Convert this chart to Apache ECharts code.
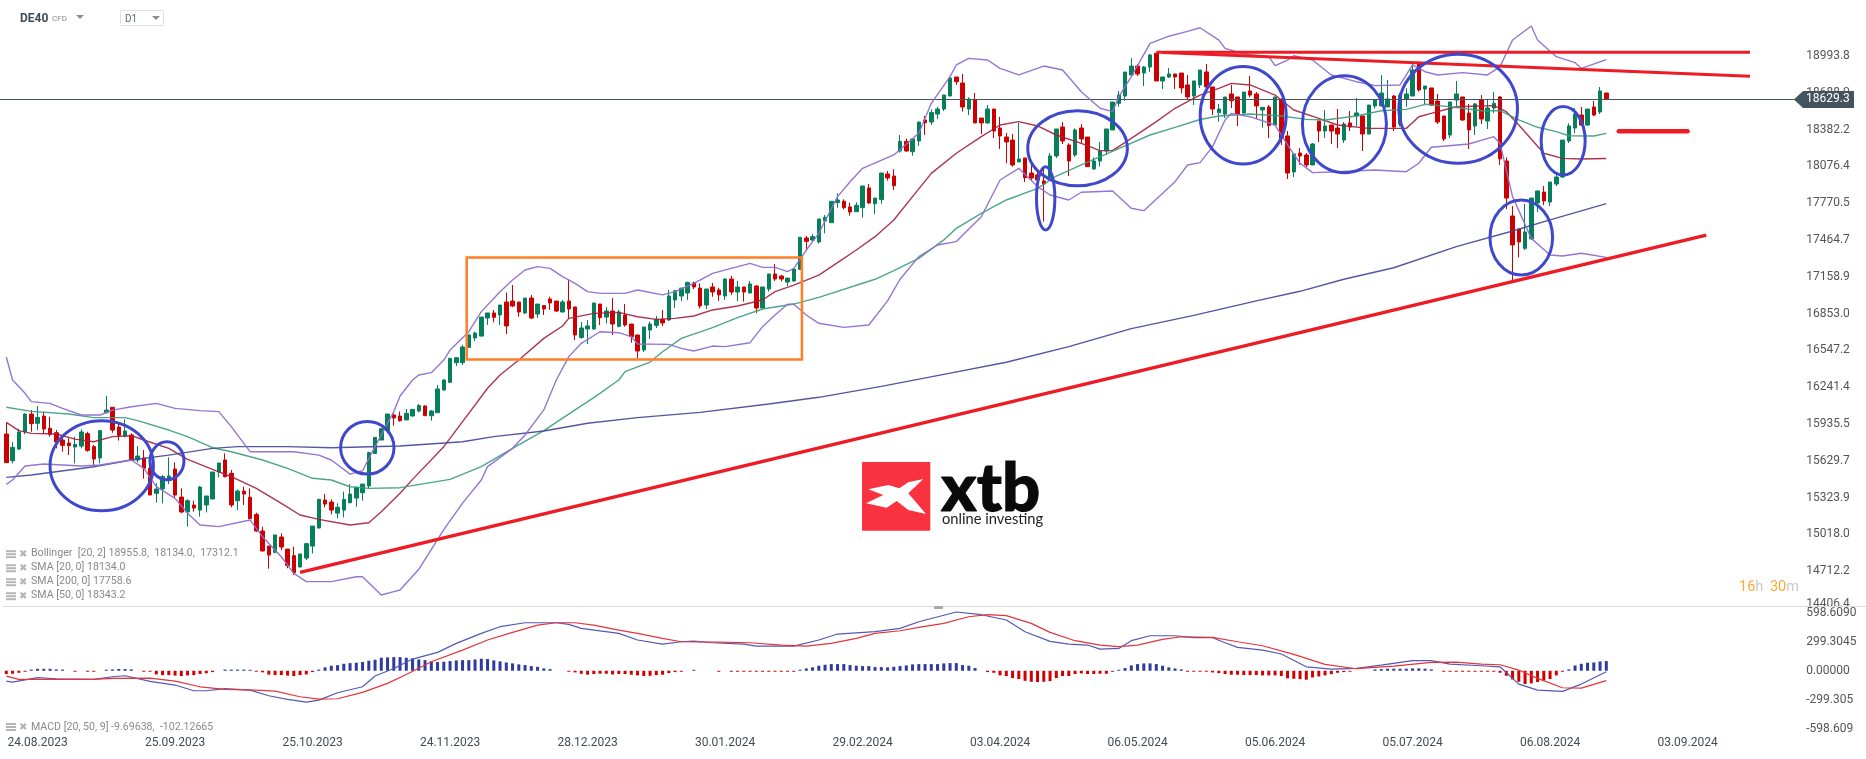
<!DOCTYPE html>
<html><head><meta charset="utf-8">
<style>html,body{margin:0;padding:0;background:#fff}#c{width:1866px;height:759px}</style>
<script src="https://cdn.jsdelivr.net/npm/echarts@6/dist/echarts.min.js"></script>
</head><body><div id="c"></div>
<script>
// candle rows: [open, close, low, high]
const candlesAug23=[[15844,15606,15606,15938],[15622,15733,15600,15777],[15719,15861,15711,15888],[15863,16010,15841,16016],[16010,15930,15863,16043],[15933,15982,15877,16077],[15993,15885,15849,16030],[15891,15841,15822,15988],[15855,15777,15725,15877],[15794,15750,15697,15822],[15769,15747,15669,15808],[15736,15758,15600,15822],[15744,15861,15725,15883],[15847,15708,15697,15863],[15739,15636,15581,15753],[15645,15872,15600,15877],[16021,16043,16016,16160],[16066,15877,15855,16066],[15902,15833,15789,15933],[15827,15869,15816,15966],[15836,15625,15620,15849],[15628,15661,15606,15744],[15644,15559,15473,15711],[15559,15337,15337,15600],[15351,15387,15273,15434],[15387,15489,15268,15503],[15456,15495,15428,15650],[15553,15337,15318,15608],[15320,15196,15185,15392],[15196,15290,15074,15301],[15254,15229,15198,15290],[15212,15403,15157,15412]];
const candlesOct23=[[15254,15329,15193,15329],[15304,15528,15301,15528],[15528,15603,15484,15603],[15628,15489,15484,15683],[15517,15254,15235,15545],[15290,15370,15212,15384],[15370,15345,15254,15406],[15318,15140,15140,15392],[15176,15038,15032,15190],[15038,14872,14869,15074],[14913,14838,14725,14913],[14861,15005,14852,15005],[14988,14905,14880,15018],[14888,14750,14728,14888],[14833,14692,14672,14908],[14739,14847,14736,14847],[14813,14933,14797,14933],[14913,15079,14852,15079],[15063,15301,15060,15301],[15295,15262,15235,15345],[15279,15212,15176,15301],[15187,15235,15143,15268],[15212,15301,15151,15365],[15273,15345,15268,15428],[15312,15401,15240,15406],[15356,15428,15290,15428],[15412,15689,15392,15697],[15683,15816,15678,15816],[15794,15888,15794,15888],[15872,16010,15849,16010],[16002,15977,15913,16016],[15993,15955,15946,16030]];
const candlesNov23=[[15961,16016,15961,16052],[15994,16049,15988,16049],[16035,16080,16024,16093],[16077,15996,15996,16082],[15996,16035,15955,16044],[16021,16218,16021,16251],[16210,16293,16204,16298],[16274,16473,16268,16473],[16437,16478,16409,16478],[16437,16567,16417,16584],[16564,16667,16564,16672],[16642,16683,16617,16694],[16658,16816,16655,16816],[16808,16850,16750,16850],[16850,16814,16772,16875],[16833,16916,16750,16916],[16941,16742,16675,17019],[16949,16908,16897,17082],[16941,16858,16819,16941],[16850,16974,16841,16974],[16974,16808,16800,16999],[16841,16924,16808,16924],[16911,16883,16833,16916],[16966,16933,16875,16985],[16949,16866,16858,16949],[16858,16941,16855,16958],[16949,16883,16800,17124],[16900,16667,16625,16900],[16647,16725,16636,16775],[16717,16742,16592,16791],[16717,16933,16708,16933],[16924,16811,16750,16924]];
const candlesJan24=[[16816,16866,16764,16899],[16866,16758,16667,16974],[16739,16858,16730,16875],[16833,16750,16736,16924],[16758,16653,16603,16758],[16667,16534,16476,16667],[16542,16733,16526,16733],[16708,16758,16634,16778],[16747,16797,16725,16825],[16797,16767,16742,16875],[16792,16991,16783,17041],[16958,17035,16891,17035],[16991,17057,16949,17057],[17016,17104,16958,17110],[17099,17066,17049,17110],[17057,16908,16888,17096],[16916,17049,16883,17049],[17066,17024,16985,17099],[17041,17000,16949,17060],[16991,17132,16958,17140],[17132,17024,16999,17157],[17024,17066,16949,17116],[17066,17024,16944,17066],[17016,17091,17016,17116],[17074,16891,16850,17082],[16891,17066,16886,17066],[17049,17174,17027,17174],[17174,17132,17116,17257],[17157,17132,17113,17165],[17107,17140,17074,17140],[17116,17215,17110,17215],[17213,17479,17213,17479]];
const candlesFeb24=[[17473,17445,17368,17490],[17456,17484,17443,17506],[17440,17631,17426,17631],[17614,17645,17512,17664],[17600,17778,17600,17778],[17767,17789,17725,17844],[17778,17725,17711,17794],[17731,17689,17659,17767],[17692,17745,17692,17769],[17725,17905,17642,17905],[17889,17764,17758,17922],[17758,17805,17672,17805],[17792,18013,17758,18013],[18005,17972,17950,18030],[17988,17908,17872,18044],[18196,18276,18182,18329],[18276,18196,18190,18298],[18190,18296,18157,18296],[18279,18437,18238,18437],[18454,18431,18329,18487],[18437,18515,18412,18542],[18503,18545,18462,18564],[18545,18661,18528,18661],[18653,18803,18653,18803],[18811,18772,18745,18811],[18761,18562,18523,18836],[18545,18628,18495,18642],[18620,18429,18429,18678],[18470,18429,18337,18470],[18429,18545,18423,18578],[18545,18362,18304,18545],[18387,18321,18213,18479]];
const candlesApr24=[[18312,18271,18094,18346],[18287,18080,18066,18337],[18105,18130,18105,18429],[18138,17974,17938,18138],[18013,17972,17955,18080],[17997,17955,17927,18024],[17947,17922,17609,18052],[17977,18155,17955,18177],[18155,18379,18138,18379],[18395,18279,18254,18437],[18246,18113,17988,18260],[18163,18371,18146,18384],[18387,18296,18254,18420],[18312,18066,18066,18312],[18047,18113,18038,18143],[18113,18196,18066,18271],[18196,18379,18163,18379],[18371,18603,18371,18603],[18592,18661,18564,18695],[18653,18852,18614,18852],[18828,18902,18819,18969],[18902,18836,18819,18919],[18844,18894,18736,18902],[18894,18994,18852,19002],[19008,18778,18778,19008],[18778,18811,18711,18811],[18811,18836,18803,18886],[18836,18811,18711,18836],[18844,18720,18675,18844],[18745,18645,18620,18828],[18653,18778,18578,18778],[18745,18869,18720,18869]];
const candlesMay24=[[18853,18728,18728,18919],[18728,18545,18495,18728],[18515,18545,18440,18587],[18503,18645,18470,18645],[18670,18614,18553,18745],[18645,18503,18404,18645],[18512,18686,18503,18686],[18695,18661,18642,18819],[18670,18570,18462,18686],[18537,18559,18390,18559],[18562,18409,18304,18578],[18412,18645,18412,18645],[18620,18301,18246,18634],[18321,18013,17963,18362],[18022,18171,17980,18171],[18179,18155,18080,18221],[18163,18080,18063,18179],[18080,18254,18080,18262],[18445,18362,18271,18445],[18362,18404,18304,18537],[18412,18362,18254,18412],[18387,18337,18221,18545],[18287,18420,18262,18437],[18429,18395,18362,18528],[18487,18512,18404,18636],[18487,18337,18196,18487],[18337,18578,18337,18578],[18570,18620,18548,18620],[18570,18678,18570,18827],[18562,18628,18562,18786],[18653,18395,18362,18661],[18420,18661,18400,18680]];
const candlesJul24=[[18628,18670,18564,18717],[18653,18869,18653,18919],[18919,18703,18689,18938],[18711,18736,18586,18736],[18720,18578,18570,18720],[18611,18437,18420,18670],[18487,18296,18279,18487],[18329,18603,18304,18603],[18620,18670,18570,18778],[18645,18454,18445,18645],[18512,18371,18213,18587],[18404,18587,18329,18595],[18620,18462,18420,18661],[18445,18553,18379,18628],[18553,18592,18512,18686],[18645,18130,18080,18653],[18113,17805,17714,18143],[17656,17415,17124,17739],[17548,17440,17312,17548],[17387,17523,17373,17756],[17465,17805,17456,17805],[17764,17864,17689,17864],[17855,17781,17747,17905],[17772,17938,17739,17938],[17922,17980,17905,17997],[17980,18287,17972,18287],[18279,18404,18262,18426],[18387,18503,18346,18553],[18495,18412,18404,18562],[18412,18545,18404,18545],[18562,18495,18487,18612],[18520,18695,18503,18728],[18678,18629,18629,18678]];

// indicator lines: [bar index, value]
const sma20=[[0,15941],[2,15872],[4,15849],[8,15844],[11,15802],[14,15780],[17,15822],[20,15830],[22,15794],[26,15725],[29,15633],[33,15550],[36,15489],[40,15392],[44,15268],[47,15171],[50,15135],[55,15088],[58,15107],[60,15198],[63,15351],[65,15467],[70,15739],[74,16016],[77,16224],[79,16334],[82,16459],[86,16639],[89,16742],[90,16805],[94,16847],[98,16855],[101,16819],[104,16797],[107,16805],[110,16825],[113,16875],[117,16908],[121,16958],[123,17027],[126,17082],[130,17165],[133,17268],[136,17373],[139,17484],[142,17623],[145,17817],[148,18010],[152,18177],[156,18315],[159,18412],[162,18440],[165,18404],[168,18329],[172,18260],[175,18199],[177,18199],[180,18301],[184,18440],[187,18551],[189,18606],[191,18661],[194,18717],[196,18758],[199,18745],[203,18661],[206,18537],[210,18467],[213,18412],[218,18384],[224,18384],[226,18481],[228,18509],[232,18564],[238,18573],[240,18523],[242,18412],[246,18177],[249,18135],[252,18130],[256,18134]];
const sma50=[[0,16066],[4,16032],[10,16010],[14,15980],[19,15980],[21,15955],[26,15877],[29,15822],[33,15730],[36,15697],[41,15628],[45,15559],[49,15476],[52,15462],[55,15406],[58,15392],[63,15398],[71,15467],[76,15573],[81,15725],[86,15872],[91,16044],[94,16146],[98,16293],[99,16362],[103,16442],[105,16528],[108,16639],[113,16728],[117,16811],[121,16883],[126,16924],[130,16980],[139,17130],[142,17202],[146,17304],[150,17457],[152,17553],[156,17678],[160,17789],[165,17886],[168,17988],[172,18080],[179,18238],[183,18329],[187,18393],[191,18458],[194,18487],[199,18503],[204,18487],[208,18459],[211,18454],[216,18487],[220,18531],[224,18542],[227,18584],[229,18575],[233,18551],[236,18531],[239,18531],[242,18454],[245,18393],[248,18357],[250,18323],[254,18321],[256,18343]];
const sma200=[[0,15484],[4,15503],[14,15572],[20,15628],[26,15669],[33,15725],[37,15739],[45,15739],[52,15730],[63,15744],[73,15780],[78,15822],[86,15869],[93,15933],[101,15980],[111,16024],[122,16093],[130,16149],[140,16240],[150,16340],[160,16440],[170,16570],[180,16720],[190,16830],[200,16950],[207,17030],[214,17130],[222,17226],[232,17401],[241,17531],[247,17623],[256,17759]];
const bollUpper=[[0,16484],[1,16293],[3,16182],[4,16113],[7,16099],[9,16057],[12,16002],[15,16002],[17,16043],[20,16071],[24,16099],[27,16057],[31,16038],[34,16030],[36,15905],[39,15697],[42,15697],[46,15697],[50,15669],[52,15628],[55,15511],[57,15539],[59,15739],[62,16030],[63,16160],[65,16293],[66,16334],[68,16354],[70,16459],[71,16542],[74,16694],[76,16861],[79,17027],[81,17124],[83,17207],[85,17235],[87,17221],[89,17152],[91,17096],[93,17027],[95,17013],[99,17013],[101,17041],[105,17000],[107,17027],[110,17096],[113,17179],[116,17221],[119,17262],[121,17229],[123,17229],[125,17193],[126,17221],[128,17373],[130,17512],[133,17817],[135,17941],[137,18052],[142,18163],[146,18343],[148,18592],[151,18814],[152,18911],[154,18966],[157,18952],[159,18883],[162,18828],[166,18902],[169,18869],[172,18689],[175,18551],[177,18523],[178,18647],[180,18814],[183,19091],[186,19150],[189,19190],[191,19220],[194,19118],[195,19049],[198,19002],[202,18980],[203,18905],[205,18952],[206,18988],[209,18952],[212,18828],[216,18772],[219,18739],[223,18745],[225,18911],[227,18855],[229,18828],[233,18847],[237,18828],[239,18897],[241,19118],[244,19235],[245,19118],[248,18980],[251,18930],[252,18883],[256,18956]];
const bollLower=[[0,15426],[1,15462],[3,15578],[6,15595],[12,15578],[15,15586],[20,15628],[22,15559],[24,15406],[27,15309],[29,15185],[31,15088],[34,15074],[39,15129],[41,14991],[44,14824],[46,14686],[48,14617],[52,14617],[56,14658],[57,14658],[60,14506],[62,14534],[63,14548],[66,14720],[70,15050],[73,15270],[76,15462],[77,15573],[81,15725],[83,15836],[86,16044],[88,16293],[90,16487],[92,16598],[95,16694],[98,16686],[100,16653],[101,16592],[106,16589],[108,16556],[110,16534],[113,16575],[115,16570],[119,16603],[121,16736],[123,16833],[125,16922],[126,16922],[128,16833],[130,16764],[134,16730],[138,16750],[141,16950],[143,17130],[146,17318],[149,17415],[152,17443],[156,17650],[159,17955],[162,18052],[165,17900],[167,17830],[170,17789],[172,17853],[177,17864],[180,17720],[182,17700],[187,17941],[189,18080],[191,18099],[193,18232],[195,18454],[196,18509],[199,18481],[203,18412],[205,18246],[207,18094],[209,18016],[213,18024],[219,18038],[224,18024],[226,18094],[228,18227],[234,18254],[238,18315],[239,18260],[241,17817],[244,17470],[247,17332],[249,17323],[252,17346],[256,17312]];

const macdLine=[[0,-107],[1,-117],[5,-72],[8,-83],[14,-90],[17,-62],[19,-52],[23,-110],[27,-148],[30,-207],[32,-207],[35,-186],[39,-200],[42,-259],[45,-297],[48,-324],[50,-304],[53,-228],[57,-166],[59,-55],[62,24],[65,121],[69,190],[72,283],[76,387],[79,456],[83,497],[88,497],[90,480],[92,438],[98,387],[101,318],[105,276],[108,300],[110,307],[113,290],[118,276],[120,255],[126,255],[130,318],[133,380],[139,404],[143,438],[146,507],[152,608],[156,580],[160,525],[163,404],[167,304],[170,276],[173,266],[175,224],[178,231],[180,311],[183,362],[187,362],[190,342],[193,342],[195,290],[197,242],[201,214],[204,173],[208,41],[212,17],[216,24],[220,59],[225,104],[228,104],[231,69],[236,52],[239,41],[242,-138],[245,-200],[249,-214],[252,-138],[256,-10]];
const macdSignal=[[0,-55],[2,-90],[7,-90],[14,-90],[17,-79],[23,-76],[27,-107],[31,-166],[35,-193],[40,-200],[43,-211],[47,-269],[50,-293],[53,-290],[57,-224],[61,-131],[64,-38],[68,93],[73,214],[77,318],[81,397],[85,473],[88,497],[91,497],[94,473],[98,421],[101,387],[105,335],[108,300],[114,297],[119,290],[124,266],[128,255],[132,283],[136,335],[139,387],[143,414],[146,449],[150,490],[154,559],[157,580],[160,570],[164,490],[167,397],[171,311],[175,266],[178,249],[181,266],[185,325],[188,352],[193,345],[197,300],[201,259],[206,169],[211,66],[216,21],[222,48],[228,86],[232,90],[236,69],[239,62],[242,7],[245,-79],[249,-176],[252,-180],[256,-102]];
const macdHist=[-35,-31,-21,-6,12,20,20,20,14,12,null,-3,null,-3,-3,null,10,14,18,18,14,null,-3,-8,-38,-45,-45,-50,-55,-48,-45,-33,-26,-14,null,12,12,12,12,6,-4,-16,-40,-45,-45,-50,-55,-45,-38,-14,12,35,52,58,72,79,83,90,104,114,135,138,141,141,135,128,117,110,97,90,93,100,107,110,110,117,124,121,107,97,86,76,66,59,48,41,24,17,null,null,-3,-17,-31,-41,-34,-31,-31,-38,-34,-34,-41,-48,-55,-52,-45,-41,-24,-14,-7,null,10,null,null,null,-3,null,-3,-3,-3,-7,-10,-7,-10,-4,-3,-3,-3,10,24,35,52,62,69,69,69,59,52,48,48,38,38,35,41,48,55,66,69,69,69,69,76,79,79,59,52,28,null,-14,-21,-48,-55,-76,-86,-104,-114,-117,-114,-107,-76,-55,-55,-34,-28,-34,-34,-31,-31,-7,10,28,55,69,76,76,69,52,35,24,14,-3,-3,-3,-7,-17,-24,-34,-41,-41,-45,-45,-45,-48,-48,-48,-55,-79,-83,-86,-93,-69,-59,-48,-35,-21,-14,-7,null,null,null,14,17,21,21,21,21,24,24,21,14,null,-3,-3,-3,-7,-7,-7,-7,-5,-3,-21,-52,-90,-114,-138,-131,-117,-100,-86,-48,-4,14,55,72,83,86,97,100];

// hand-drawn annotations, in bar index and price
const supportLine=[[47,14694],[272,17497]];
const topLine=[[184,19016],[279,19016]];
const fallingLine=[[185,19015],[279,18817]];
const targetLine=[[258,18360],[269,18360]];
const boxBars=[73.66,127.3], boxPrices=[17311,16463];
const ellipseBar=[15.27,25.71,57.76,171.4,166.3,197.9,214.1,232.3,249.1,242.4];
const ellipsePrice=[15580,15621,15730,18219,17803,18493,18419,18547,18281,17477];
const ellipseBarRadius=[8.27,2.72,4.27,7.97,1.47,6.88,6.72,9.49,3.52,5.01];
const ellipsePriceRadius=[374,158,219,312,263,405,403,453,284,312];

const tickDates=['24.08.2023','25.09.2023','25.10.2023','24.11.2023','28.12.2023','30.01.2024','29.02.2024','03.04.2024','06.05.2024','05.06.2024','05.07.2024','06.08.2024','03.09.2024'];
const priceTicks=[14406.4,14712.2,15018.0,15323.9,15629.7,15935.5,16241.4,16547.2,16853.0,17158.9,17464.7,17770.5,18076.4,18382.2,18688.0,18993.8];
const macdTicks=[598.609,299.3045,0,-299.305,-598.609];
const macdTickLabels=['598.6090','299.3045','0.00000','-299.305','-598.609'];
const lastPrice=18629.3;
const legendRows=['Bollinger  [20, 2] 18955.8,  18134.0,  17312.1','SMA [20, 0] 18134.0','SMA [200, 0] 17758.6','SMA [50, 0] 18343.2'];
const macdLegend='MACD [20, 50, 9] -9.69638,  -102.12665';

const barCount=288;
const categories=new Array(barCount).fill('');
tickDates.forEach((d,k)=>{categories[5+22*k]=d;});
const candles=[].concat(candlesAug23,candlesOct23,candlesNov23,candlesJan24,candlesFeb24,candlesApr24,candlesMay24,candlesJul24);

const line=(name,data,color,width,opacity,xi)=>({name,type:'line',data,xAxisIndex:xi||0,yAxisIndex:xi||0,showSymbol:false,symbol:'none',
  lineStyle:{color,width,opacity:opacity==null?1:opacity},silent:true,animation:false,z:5});
const trend=(data,width,cap)=>({type:'line',data,showSymbol:false,symbol:'none',lineStyle:{color:'#ed1c24',width,cap:cap||'butt'},silent:true,animation:false,z:8});

const xAt=(api,v,p)=>{const f=Math.floor(v);return api.coord([f,p])[0]+(v-f)*api.size([1,0])[0];};

const FONT='Roboto, sans-serif';
function legendIcon(x,y){
  const out=[];
  [-4,-1,2].forEach(d=>out.push({type:'rect',shape:{x:x,y:y+d,width:10,height:2},style:{fill:'#b5b5b5'},z:30}));
  out.push({type:'text',x:x+13,y:y-5,style:{text:'\u2716',font:'10px "DejaVu Sans"',fill:'#b5b5b5'},z:30});
  return out;
}
const graphics=[];
graphics.push({type:'rect',shape:{x:3,y:606,width:1863,height:1},style:{fill:'#dcdcdc'},z:1});
graphics.push({type:'rect',shape:{x:934,y:606,width:9,height:3},style:{fill:'#a8a8a8'},z:2});
graphics.push({type:'rect',shape:{x:0,y:99,width:4,height:1},style:{fill:'#44545f'},z:2});
legendRows.forEach((t,k)=>{
  const y=554.2+14*k;
  graphics.push(...legendIcon(6,y));
  graphics.push({type:'text',x:31,y:y-6,style:{text:t,font:'10.6px '+FONT,fill:'#8a8a8a'},z:30});
});
graphics.push(...legendIcon(6,727));
graphics.push({type:'text',x:31,y:721.5,style:{text:macdLegend,font:'10.6px '+FONT,fill:'#8a8a8a'},z:30});
// header
graphics.push({type:'text',x:20,y:12.5,style:{text:'DE40',font:'bold 12px '+FONT,fill:'#3f4d57'},z:30});
graphics.push({type:'text',x:52,y:15,style:{text:'CFD',font:'8px '+FONT,fill:'#8d8d8d'},z:30});
graphics.push({type:'polygon',shape:{points:[[76,15],[84,15],[80,19]]},style:{fill:'#8d8d8d'},z:30});
graphics.push({type:'rect',shape:{x:120.5,y:10.5,width:43,height:15,r:1},style:{fill:'#fff',stroke:'#e0e0e0',lineWidth:1},z:30});
graphics.push({type:'text',x:125,y:14,style:{text:'D1',font:'10px '+FONT,fill:'#5c6a73'},z:31});
graphics.push({type:'polygon',shape:{points:[[152,16],[160,16],[156,20]]},style:{fill:'#8d8d8d'},z:31});
// price tag
graphics.push({type:'polygon',shape:{points:[[1794,99.5],[1803,91],[1854,91],[1854,108],[1803,108]]},style:{fill:'#44545f'},z:30});
graphics.push({type:'text',x:1806,y:93,style:{text:lastPrice.toFixed(1),font:'12px '+FONT,fill:'#fff'},z:31});
// countdown
graphics.push({type:'text',x:1739,y:579.5,style:{text:'{a|16}{b|h}  {a|30}{b|m}',rich:{a:{fill:'#ffa733',font:'14.5px '+FONT},b:{fill:'#c9c9c9',font:'14.5px '+FONT}}},z:30});
// logo
graphics.push({type:'rect',shape:{x:862,y:462,width:68.3,height:68.7,r:1},style:{fill:'#f9323f'},z:3});
graphics.push({type:'polygon',shape:{points:[[923.3,479],[908.3,493.3],[926,514],[908.3,510],[896.7,501],[886.7,507.7],[866,503.3],[883.3,495],[868.3,489.3],[888.3,485],[899.3,488.3],[908.3,482.3]]},style:{fill:'#fff'},z:4});
graphics.push({type:'text',x:941,y:456,style:{text:'xtb',font:'900 67px Lato, sans-serif',fill:'#0a0a0a',stroke:'#0a0a0a',lineWidth:1},z:4});
graphics.push({type:'text',x:942,y:512,style:{text:'online investing',font:'14.7px Lato, sans-serif',fill:'#222'},z:4});

const option={
  animation:false,backgroundColor:'#fff',
  grid:[
    {left:3.175,width:1800,top:0,height:607,containLabel:false},
    {left:3.175,width:1800,top:606.5,height:128.5,containLabel:false}
  ],
  xAxis:[
    {type:'category',data:categories,gridIndex:0,axisLine:{show:false},axisTick:{show:false},axisLabel:{show:false},splitLine:{show:false}},
    {type:'category',data:categories,gridIndex:1,axisLine:{show:false},axisTick:{show:false},splitLine:{show:false},
     axisLabel:{interval:(i)=>(i-5)%22===0&&i>=5,color:'#444c52',fontFamily:'Roboto',fontSize:12,margin:2,hideOverlap:false}}
  ],
  yAxis:[
    {type:'value',gridIndex:0,position:'right',min:14406.4,max:19450.9,axisLine:{show:false},axisTick:{show:false},splitLine:{show:false},
     axisLabel:{customValues:priceTicks,formatter:v=>v===priceTicks[0]?'{low|'+Number(v).toFixed(1)+'}':Number(v).toFixed(1),
       rich:{low:{color:'#555',fontFamily:'Roboto',fontSize:12,padding:[0,0,9,0]}},
       color:'#555',fontFamily:'Roboto',fontSize:12,margin:3,padding:[2,0,0,0],showMinLabel:true,showMaxLabel:true,hideOverlap:false}},
    {type:'value',gridIndex:1,position:'right',min:-665,max:665,axisLine:{show:false},axisTick:{show:false},splitLine:{show:false},
     axisLabel:{customValues:macdTicks,formatter:v=>macdTickLabels[macdTicks.indexOf(v)],color:'#555',fontFamily:'Roboto',fontSize:12,margin:3,padding:[2,0,0,0],hideOverlap:false}}
  ],
  series:[
    {type:'candlestick',data:candles,barWidth:4,z:3,silent:true,animation:false,
     itemStyle:{color:'#067f5b',color0:'#cc0000',borderColor:'#067f5b',borderColor0:'#cc0000',borderWidth:1},
     markLine:{symbol:'none',silent:true,animation:false,label:{show:false},lineStyle:{color:'#44545f',width:1,type:'solid'},data:[{yAxis:lastPrice}]}},
    line('SMA20',sma20,'#a31f3c',1.4,0.9),
    line('SMA50',sma50,'#3a9c7e',1.4,0.9),
    line('SMA200',sma200,'#3f4596',1.4,0.9),
    line('Bollinger upper',bollUpper,'#8e6fd0',1.4,0.95),
    line('Bollinger lower',bollLower,'#8e6fd0',1.4,0.95),
    trend(supportLine,3.5),
    trend(topLine,3),
    trend(fallingLine,3),
    trend(targetLine,4.5,'round'),
    {type:'custom',z:9,silent:true,animation:false,clip:false,
     data:ellipseBar.map((b,k)=>[Math.round(b),ellipsePrice[k]]),
     renderItem:(params,api)=>{
       const k=params.dataIndex,p=ellipsePrice[k];
       const cx=xAt(api,ellipseBar[k],p);
       const y1=api.coord([0,p+ellipsePriceRadius[k]])[1],y2=api.coord([0,p-ellipsePriceRadius[k]])[1];
       return {type:'ellipse',shape:{cx,cy:(y1+y2)/2,rx:ellipseBarRadius[k]*api.size([1,0])[0],ry:(y2-y1)/2},
         style:{fill:null,stroke:'#3f48cc',lineWidth:3}};
     }},
    {type:'custom',z:9,silent:true,animation:false,clip:false,
     data:[[Math.round(boxBars[0]),boxPrices[0]]],
     renderItem:(params,api)=>{
       const x1=xAt(api,boxBars[0],boxPrices[0]),x2=xAt(api,boxBars[1],boxPrices[0]);
       const y1=api.coord([0,boxPrices[0]])[1],y2=api.coord([0,boxPrices[1]])[1];
       return {type:'rect',shape:{x:x1,y:y1,width:x2-x1,height:y2-y1},style:{fill:null,stroke:'#ff7f27',lineWidth:2.5}};
     }},
    {type:'bar',xAxisIndex:1,yAxisIndex:1,data:macdHist,barWidth:3,barMinHeight:1,silent:true,animation:false,z:2,
     itemStyle:{color:p=>p.value>=0?'#2e3a9e':'#d00000'}},
    line('MACD',macdLine,'#5259b5',1.2,1,1),
    line('Signal',macdSignal,'#e5343a',1.2,1,1)
  ],
  graphic:graphics
};
echarts.init(document.getElementById('c')).setOption(option);
</script></body></html>
